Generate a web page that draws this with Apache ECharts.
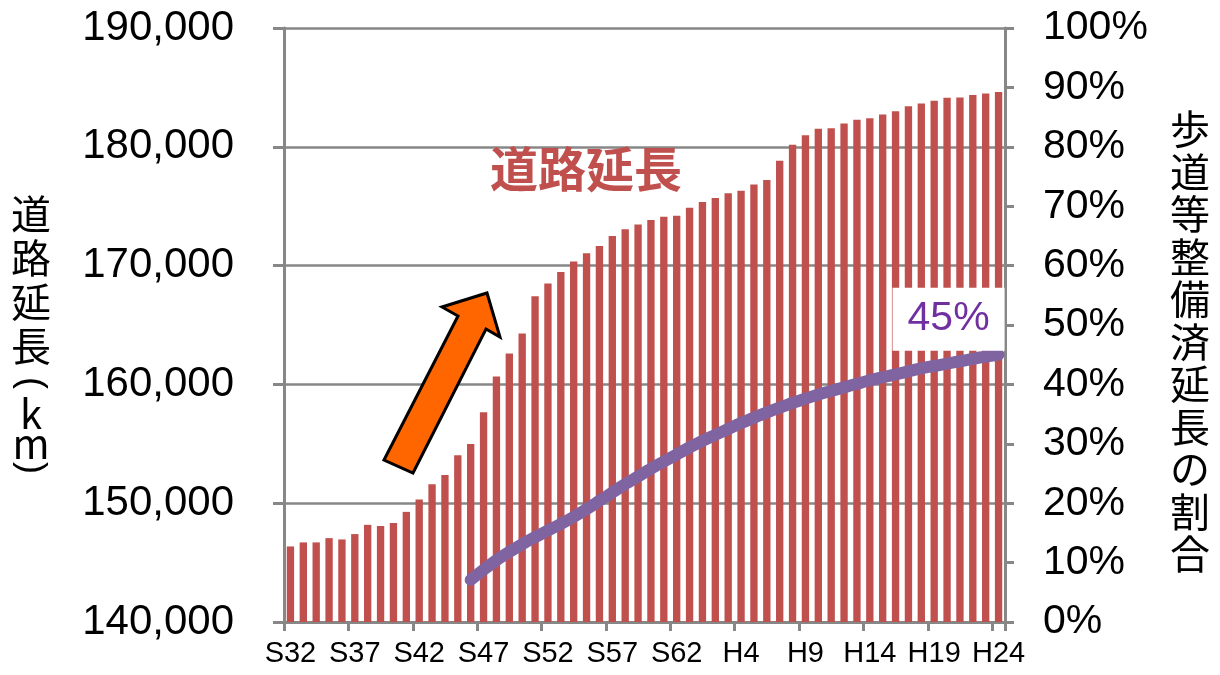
<!DOCTYPE html>
<html>
<head>
<meta charset="utf-8">
<script src="https://cdn.jsdelivr.net/npm/echarts@6/dist/echarts.min.js"></script>
<style>
html,body{margin:0;padding:0;background:#fff;}
#main{width:1220px;height:675px;}
</style>
</head>
<body>
<div id="main"></div>
<script>
// ---- data ----
const categories = [
  'S32','S33','S34','S35','S36','S37','S38','S39','S40','S41',
  'S42','S43','S44','S45','S46','S47','S48','S49','S50','S51',
  'S52','S53','S54','S55','S56','S57','S58','S59','S60','S61',
  'S62','S63','H1','H2','H3','H4','H5','H6','H7','H8',
  'H9','H10','H11','H12','H13','H14','H15','H16','H17','H18',
  'H19','H20','H21','H22','H23','H24'
];

// 道路延長 (km)
const roadLength = [
  146360,146700,146700,147060,146950,147400,148180,148090,148340,149270,
  150310,151600,152380,154030,154980,157650,160670,162600,164290,167420,
  168490,169470,170340,171030,171660,172500,173050,173450,173840,174120,
  174200,174870,175350,175690,176080,176300,176830,177200,178820,180170,
  180980,181510,181570,181960,182270,182410,182710,183000,183420,183640,
  183870,184120,184140,184370,184480,184620
];

// 歩道等整備済延長の割合 (%)
const sidewalkRatio = [
  null,null,null,null,null,null,null,null,null,null,
  null,null,null,null,7.1,8.8,10.4,11.8,13.1,14.3,
  15.4,16.5,17.7,19.0,20.4,21.8,23.2,24.5,25.8,27.0,
  28.2,29.4,30.5,31.5,32.5,33.5,34.4,35.3,36.1,36.9,
  37.6,38.3,38.9,39.5,40.1,40.7,41.2,41.7,42.2,42.7,
  43.1,43.5,43.9,44.3,44.7,45.0
];

const leftAxisRange = [140000, 190000, 10000];
const rightAxisRange = [0, 100, 10];
const leftAxisName = ['道','路','延','長'];
const leftAxisUnit = ['k','m'];
const rightAxisName = ['歩','道','等','整','備','済','延','長','の','割','合'];
const annotationText = '道路延長';

// ---- chart ----
const GRAY = '#878787';
const LATIN = "'Liberation Sans', Arial, sans-serif";
const CJK = "'Noto Sans CJK JP', sans-serif";

const lineData = sidewalkRatio.map((v, i) => {
  if (i === sidewalkRatio.length - 1) {
    return {
      value: v,
      label: {
        show: true,
        position: 'top',
        distance: 4,
        offset: [-50, 0],
        formatter: (p) => Math.round(p.value) + '%',
        fontFamily: LATIN,
        fontSize: 41,
        color: '#7030A0',
        backgroundColor: '#ffffff',
        padding: [11, 15, 11, 15]
      }
    };
  }
  return v;
});

const chart = echarts.init(document.getElementById('main'), null, {renderer: 'canvas'});
chart.setOption({
  animation: false,
  backgroundColor: '#ffffff',
  grid: {left: 284, right: 215, top: 28, bottom: 53},
  xAxis: {
    type: 'category',
    data: categories,
    boundaryGap: true,
    axisLine: {show: true, lineStyle: {color: GRAY, width: 3}},
    axisTick: {show: true, interval: 4, length: 9, lineStyle: {color: GRAY, width: 3}},
    axisLabel: {interval: 4, fontFamily: LATIN, fontSize: 29, color: '#000', margin: 17},
    splitLine: {show: false}
  },
  yAxis: [
    {
      type: 'value',
      min: leftAxisRange[0], max: leftAxisRange[1], interval: leftAxisRange[2],
      position: 'left',
      axisLine: {show: true, lineStyle: {color: GRAY, width: 3}},
      axisTick: {show: true, length: 11, lineStyle: {color: GRAY, width: 3}},
      axisLabel: {
        fontFamily: LATIN, fontSize: 42, color: '#000', margin: 50,
        formatter: (v) => v.toLocaleString('en-US')
      },
      splitLine: {show: true, lineStyle: {color: GRAY, width: 2.5}}
    },
    {
      type: 'value',
      min: rightAxisRange[0], max: rightAxisRange[1], interval: rightAxisRange[2],
      position: 'right',
      axisLine: {show: true, lineStyle: {color: GRAY, width: 3}},
      axisTick: {show: true, length: 9, lineStyle: {color: GRAY, width: 3}},
      axisLabel: {fontFamily: LATIN, fontSize: 41, color: '#000', margin: 38, formatter: '{value}%'},
      splitLine: {show: false}
    }
  ],
  series: [
    {
      name: '道路延長',
      type: 'bar',
      data: roadLength,
      yAxisIndex: 0,
      barWidth: '57%',
      itemStyle: {color: '#C0504D'},
      z: 2
    },
    {
      name: '歩道等整備済延長の割合',
      type: 'line',
      data: lineData,
      yAxisIndex: 1,
      smooth: 0.3,
      showSymbol: true,
      symbol: 'circle',
      symbolSize: 0.1,
      connectNulls: false,
      lineStyle: {color: '#8064A2', width: 12, cap: 'round', join: 'round'},
      itemStyle: {color: '#8064A2'},
      z: 3
    }
  ],
  graphic: [
    {
      type: 'text',
      left: 490, top: 145,
      z: 50,
      style: {
        text: annotationText,
        fontFamily: CJK, fontSize: 48, fontWeight: 'bold', fill: '#C0504D'
      }
    },
    {
      type: 'polygon',
      z: 60,
      shape: {points: [[384,460],[458,316],[442,307],[487,293],[500,337],[486,329],[413,473]]},
      style: {fill: '#FF6600', stroke: '#000000', lineWidth: 3, lineJoin: 'miter'}
    },
    // left axis title (vertical)
    {
      type: 'text',
      x: 31, y: 192, z: 50,
      style: {
        text: leftAxisName.join('\n'),
        align: 'center', verticalAlign: 'top',
        fontFamily: CJK, fontSize: 40, lineHeight: 44, fill: '#000'
      }
    },
    {
      type: 'text',
      x: 31, y: 383, z: 50, rotation: -Math.PI / 2,
      style: {text: '(', align: 'center', verticalAlign: 'middle', fontFamily: LATIN, fontSize: 36, fill: '#000'}
    },
    {
      type: 'text',
      x: 31, y: 414, z: 50,
      style: {text: leftAxisUnit[0], align: 'center', verticalAlign: 'middle', fontFamily: CJK, fontSize: 40, fill: '#000'}
    },
    {
      type: 'text',
      x: 31, y: 444, z: 50,
      style: {text: leftAxisUnit[1], align: 'center', verticalAlign: 'middle', fontFamily: CJK, fontSize: 40, fill: '#000'}
    },
    {
      type: 'text',
      x: 31, y: 468, z: 50, rotation: -Math.PI / 2,
      style: {text: ')', align: 'center', verticalAlign: 'middle', fontFamily: LATIN, fontSize: 36, fill: '#000'}
    },
    // right axis title (vertical)
    {
      type: 'text',
      x: 1190, y: 108, z: 50,
      style: {
        text: rightAxisName.join('\n'),
        align: 'center', verticalAlign: 'top',
        fontFamily: CJK, fontSize: 40, lineHeight: 42.5, fill: '#000'
      }
    }
  ]
});
</script>
</body>
</html>
